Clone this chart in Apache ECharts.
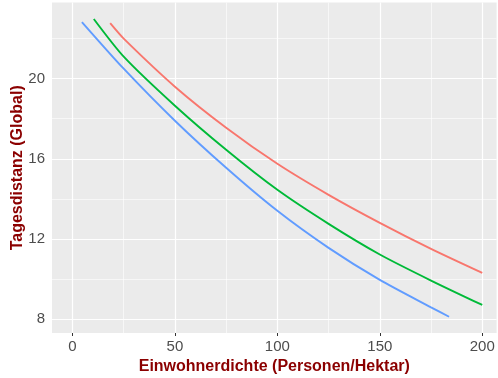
<!DOCTYPE html>
<html><head><meta charset="utf-8">
<script src="https://cdn.jsdelivr.net/npm/echarts@6/dist/echarts.min.js"></script>
<style>html,body{margin:0;padding:0;background:#fff}#c{width:498px;height:378px}</style>
</head><body><div id="c"></div>
<script>
// tick labels / grid positions
const xTicks = [0, 50, 100, 150, 200];
const xMinor = [25, 75, 125, 175];
const yTicks = [8, 12, 16, 20];
const yMinor = [10, 14, 18, 22];

// series values (Einwohnerdichte -> Tagesdistanz)
const redX = [18.4, 25, 50, 75, 100, 125, 150, 175, 200];
const redY = [22.77, 22.0, 19.6, 17.55, 15.75, 14.2, 12.8, 11.5, 10.3];
const greenX = [10.4, 25, 50, 75, 100, 125, 150, 175, 200];
const greenY = [22.98, 21.1, 18.65, 16.45, 14.45, 12.75, 11.22, 9.92, 8.7];
const blueX = [4.6, 25, 50, 75, 100, 125, 150, 175, 183.8];
const blueY = [22.83, 20.5, 17.9, 15.55, 13.4, 11.55, 9.95, 8.58, 8.11];

const pair = (xs, ys) => xs.map((x, i) => [x, ys[i]]);

const font = 'Liberation Sans, Arial, sans-serif';
const gridLines = [];
xTicks.forEach(v => gridLines.push({xAxis: v, lineStyle: {color: '#fff', width: 1.2, type: 'solid'}}));
xMinor.forEach(v => gridLines.push({xAxis: v, lineStyle: {color: '#fff', width: 0.6, type: 'solid'}}));
yTicks.forEach(v => gridLines.push({yAxis: v, lineStyle: {color: '#fff', width: 1.2, type: 'solid'}}));
yMinor.forEach(v => gridLines.push({yAxis: v, lineStyle: {color: '#fff', width: 0.6, type: 'solid'}}));

const lineSeries = (name, color, data) => ({
  name, type: 'line', data, showSymbol: false, smooth: 0.25,
  lineStyle: {color, width: 1.9}, itemStyle: {color}, z: 3, zlevel: 1, silent: true
});

const chart = echarts.init(document.getElementById('c'), null, {renderer: 'canvas'});
chart.setOption({
  animation: false,
  backgroundColor: '#fff',
  grid: {left: 52, right: 1.4, top: 2.6, bottom: 45, show: true, backgroundColor: '#EBEBEB', borderWidth: 0,
         containLabel: false, outerBoundsMode: 'none'},
  xAxis: {
    type: 'value', min: -10, max: 207,
    axisLine: {show: false},
    splitLine: {show: false},
    axisTick: {show: true, customValues: xTicks, length: 3, lineStyle: {color: '#333', width: 1}},
    axisLabel: {customValues: xTicks, color: '#4D4D4D', fontSize: 15, fontFamily: font, margin: 6},
    name: 'Einwohnerdichte (Personen/Hektar)', nameLocation: 'middle', nameGap: 25,
    nameTextStyle: {color: '#8B0000', fontWeight: 'bold', fontSize: 16, fontFamily: font}
  },
  yAxis: {
    type: 'value', min: 7.3, max: 23.8,
    axisLine: {show: false},
    splitLine: {show: false},
    axisTick: {show: true, customValues: yTicks, length: 3, lineStyle: {color: '#333', width: 1}},
    axisLabel: {customValues: yTicks, color: '#4D4D4D', fontSize: 15, fontFamily: font, margin: 7},
    name: 'Tagesdistanz (Global)', nameLocation: 'middle', nameGap: 26, nameMoveOverlap: false,
    nameTextStyle: {color: '#8B0000', fontWeight: 'bold', fontSize: 16, fontFamily: font}
  },
  series: [
    {type: 'line', data: [], z: 1, silent: true,
     markLine: {silent: true, symbol: 'none', label: {show: false}, animation: false, data: gridLines}},
    lineSeries('rot', '#F8766D', pair(redX, redY)),
    lineSeries('grün', '#00BA38', pair(greenX, greenY)),
    lineSeries('blau', '#619CFF', pair(blueX, blueY))
  ]
});
</script></body></html>
